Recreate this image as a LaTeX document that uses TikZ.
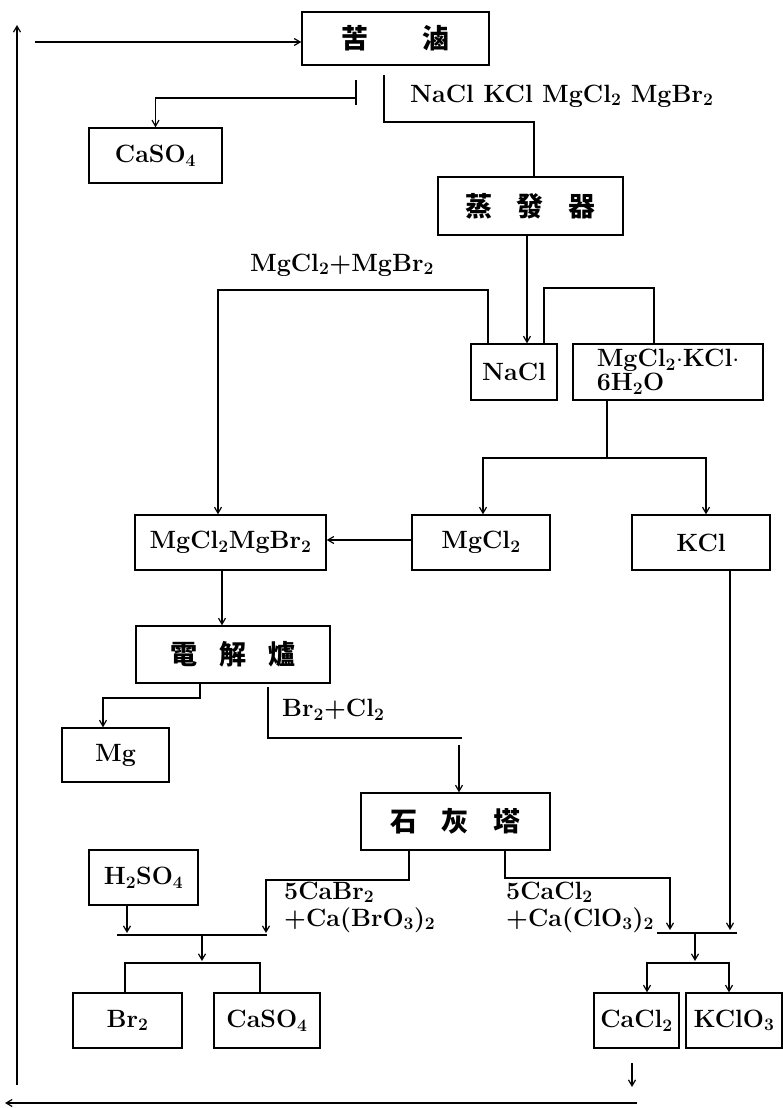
\documentclass[tikz,border=0pt]{standalone}
\usepackage{fontspec}
\newfontfamily\cjk{Noto Sans CJK TC}
\usetikzlibrary{arrows.meta,positioning,calc}
\newcommand\chsub[1]{\textsubscript{#1}}
\newcommand\hanzi[1]{{\cjk\fontsize{27}{27}\selectfont #1}}

\tikzset{
  unit/.style={draw, line width=1.4pt, inner sep=0pt, align=center,
    font=\fontsize{25}{24}\selectfont\bfseries},
  pipe/.style={line width=1.2pt},
  feed/.style={pipe, -{Straight Barb[length=6pt,width=7pt]}},
  split/.style={pipe, {Straight Barb[length=6pt,width=7pt]}-{Straight Barb[length=6pt,width=7pt]}},
  chem/.style={inner sep=0pt, align=left, font=\fontsize{25}{27}\selectfont\bfseries}
}

\begin{document}
\begin{tikzpicture}[x=1pt,y=-1pt]
    \useasboundingbox (0,0) rectangle (783,1108);
    % units
    \node[unit, minimum width=187pt, minimum height=53pt] (kulu) at (395.5,38.5) {\hanzi{苦\hspace{2em}滷}};
    \node[unit, minimum width=133pt, minimum height=55pt] (caso4a) at (155.5,155.5) {CaSO\chsub{4}};
    \node[unit, minimum width=185pt, minimum height=58pt] (zhengfa) at (530.5,206) {\hanzi{蒸\hspace{0.9em}發\hspace{0.9em}器}};
    \node[unit, minimum width=86pt, minimum height=56pt] (nacl) at (514,372) {NaCl};
    \node[unit, minimum width=190pt, minimum height=56pt, align=left] (dbl) at (668,372) {MgCl\chsub{2}$\mathord{\cdot}$KCl$\mathord{\cdot}$\\6H\chsub{2}O};
    \node[unit, minimum width=191pt, minimum height=55pt] (mix) at (230.5,542.5) {MgCl\chsub{2}MgBr\chsub{2}};
    \node[unit, minimum width=138pt, minimum height=55pt] (mgcl2) at (481,542.5) {MgCl\chsub{2}};
    \node[unit, minimum width=138pt, minimum height=55pt] (kcl) at (701,542.5) {KCl};
    \node[unit, minimum width=194pt, minimum height=57pt] (dianjie) at (233,654.5) {\hanzi{電\hspace{0.8em}解\hspace{0.8em}爐}};
    \node[unit, minimum width=107pt, minimum height=54pt] (mg) at (115.5,755) {Mg};
    \node[unit, minimum width=189pt, minimum height=57pt] (shihui) at (455.5,821.5) {\hanzi{石\hspace{0.9em}灰\hspace{0.9em}塔}};
    \node[unit, minimum width=109pt, minimum height=55pt] (h2so4) at (143.5,877.5) {H\chsub{2}SO\chsub{4}};
    \node[unit, minimum width=109pt, minimum height=55pt] (br2) at (127.5,1020.5) {Br\chsub{2}};
    \node[unit, minimum width=106pt, minimum height=55pt] (caso4b) at (267,1020.5) {CaSO\chsub{4}};
    \node[unit, minimum width=85pt, minimum height=55pt] (cacl2) at (636.5,1020.5) {CaCl\chsub{2}};
    \node[unit, minimum width=96pt, minimum height=55pt] (kclo3) at (734,1020.5) {KClO\chsub{3}};

    % stream labels
    \node[chem, anchor=base west] (salts) at (410,102) {NaCl KCl MgCl\chsub{2} MgBr\chsub{2}};
    \node[chem] (mother) at (342,265) {MgCl\chsub{2}+MgBr\chsub{2}};
    \node[chem, anchor=west] (gas) at (282,710) {Br\chsub{2}+Cl\chsub{2}};
    \node[chem, anchor=west] (brsalt) at (284,907) {5CaBr\chsub{2}\\+Ca(BrO\chsub{3})\chsub{2}};
    \node[chem, anchor=west] (clsalt) at (506,907) {5CaCl\chsub{2}\\+Ca(ClO\chsub{3})\chsub{2}};

    % return loop
    \coordinate (back) at (637,1103);
    \draw[feed] (back) -- (5,1103);
    \draw[feed] (17,1085) -- (17,25);
    \draw[feed] (35,42) -- (kulu.west |- 0,42);

    % brine
    \draw[pipe] (356,80) -- (356,105);
    \draw[feed] (356,98) -| (caso4a.north);
    \draw[pipe] (384,75) |- (534,122) -- (534,0 |- zhengfa.north);

    % evaporator
    \draw[feed] (527,0 |- zhengfa.south) -- (527,0 |- nacl.north);
    \draw[feed] (488,0 |- nacl.north) -- (488,290) -| (218,0 |- mix.north);
    \draw[pipe] (544,0 |- nacl.north) |- (654,288) -- (654,0 |- dbl.north);
    \draw[pipe] (607,0 |- dbl.south) -- (607,458);
    \draw[split] (483,0 |- mgcl2.north) |- (706,458) -- (706,0 |- kcl.north);
    \draw[feed] (mgcl2.west |- 0,540) -- (mix.east |- 0,540);

    % electrolysis
    \draw[feed] (222,0 |- mix.south) -- (222,0 |- dianjie.north);
    \draw[feed] (200,0 |- dianjie.south) |- (103,698) -- (103,0 |- mg.north);
    \draw[pipe] (268,687) |- (462,738);
    \draw[feed] (459,745) -- (459,0 |- shihui.north);

    % lime tower, bromine side
    \draw[feed] (409,0 |- shihui.south) |- (266,880) -- (266,933);
    \draw[feed] (127,0 |- h2so4.south) -- (127,933);
    \draw[pipe] (117,935) -- (267,935);
    \draw[feed] (202,935) -- (202,961);
    \draw[pipe] (125,0 |- br2.north) |- (260,963) -- (260,0 |- caso4b.north);

    % lime tower, chlorine side
    \draw[feed] (505,0 |- shihui.south) |- (670,878) -- (670,930);
    \draw[feed] (730,0 |- kcl.south) -- (730,930);
    \draw[pipe] (657,933) -- (737,933);
    \draw[feed] (695,933) -- (695,961);
    \draw[split] (647,0 |- cacl2.north) |- (729,963) -- (729,0 |- kclo3.north);
    \draw[feed] (632,1063) -- (632,1087);
\end{tikzpicture}
\end{document}
